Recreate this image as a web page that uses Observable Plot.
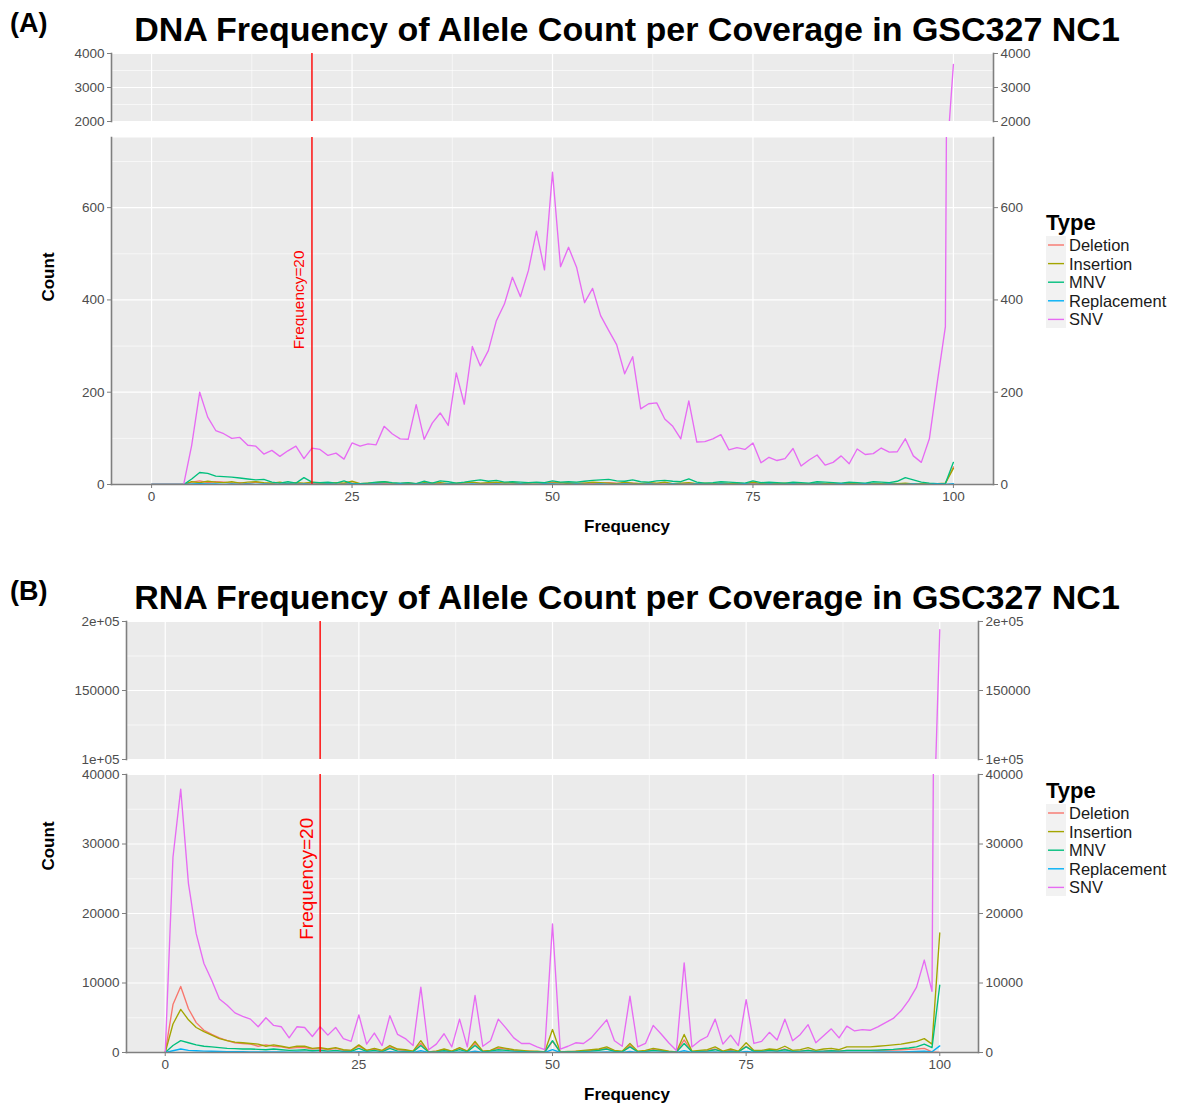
<!DOCTYPE html>
<html>
<head>
<meta charset="utf-8">
<script src="https://cdn.jsdelivr.net/npm/d3@7"></script>
<script src="https://cdn.jsdelivr.net/npm/@observablehq/plot@0.6"></script>
<style>
  html, body { margin: 0; padding: 0; background: #ffffff; }
  #page { position: relative; width: 1190px; height: 1103px; overflow: hidden; background: #fff; }
  #page svg { position: absolute; left: 0; }
</style>
</head>
<body>
<div id="page"></div>
<script>
// ---------- data ----------
const types = ["Deletion", "Insertion", "MNV", "Replacement", "SNV"];
const typeColors = ["#F8766D", "#A3A500", "#00BF7D", "#00B0F6", "#E76BF3"];

const frequency = [0,1,2,3,4,5,6,7,8,9,10,11,12,13,14,15,16,17,18,19,20,21,22,23,24,25,26,27,28,29,30,31,32,33,34,35,36,37,38,39,40,41,42,43,44,45,46,47,48,49,50,51,52,53,54,55,56,57,58,59,60,61,62,63,64,65,66,67,68,69,70,71,72,73,74,75,76,77,78,79,80,81,82,83,84,85,86,87,88,89,90,91,92,93,94,95,96,97,98,99,100];

// DNA (panel A)
const dnaDeletion = [0,0,0,0,0,5,8,4,6,5,3,4,2,5,3,2,4,1,3,2,3,1,2,4,2,3,2,1,3,2,1,2,3,1,2,3,2,1,2,3,4,2,3,2,4,3,2,3,4,2,5,3,4,2,3,2,3,4,3,2,3,2,3,2,1,2,1,3,1,2,1,2,1,1,2,3,1,2,1,1,2,1,1,2,1,1,2,1,1,2,1,1,2,1,1,0,1,0,1,2,38];
const dnaInsertion = [0,0,0,0,0,6,4,7,5,4,6,3,5,6,4,3,5,2,4,3,5,3,2,4,3,7,2,3,4,6,3,2,3,2,4,3,4,2,3,4,5,3,4,5,3,4,2,3,4,3,3,4,2,3,3,5,4,3,2,5,3,2,4,3,5,2,3,4,2,3,2,3,2,3,2,5,2,3,2,3,2,1,2,3,2,1,2,3,1,2,1,2,3,2,3,1,2,1,2,3,35];
const dnaMNV = [0,0,0,0,0,12,26,24,18,17,16,14,12,10,11,5,3,6,3,15,5,4,5,3,8,2,2,3,5,6,4,3,4,2,7,3,8,6,3,5,8,10,7,9,5,6,5,4,5,4,8,5,6,5,7,9,10,11,8,7,10,6,5,8,9,7,6,12,5,3,4,6,5,4,3,8,4,5,4,3,5,4,3,6,5,4,3,5,4,3,6,5,4,7,15,10,5,3,2,2,48];
const dnaReplacement = [0,0,0,0,0,1,2,1,1,0,1,0,1,0,1,0,0,1,0,1,0,0,1,0,0,1,0,0,1,0,0,1,0,0,1,0,0,1,0,0,1,0,0,1,0,0,1,0,0,1,1,0,0,1,0,0,1,0,0,1,0,0,1,0,0,1,0,0,1,0,0,1,0,0,1,0,0,1,0,0,1,0,0,1,0,0,1,0,0,1,0,0,1,0,0,1,0,0,1,0,2];
const dnaSNV = [0,0,0,0,0,85,200,146,117,110,100,102,85,83,66,74,61,73,83,56,79,76,63,68,55,90,83,88,86,126,110,99,98,173,98,133,155,128,242,174,299,257,290,355,391,449,407,464,549,465,677,472,514,471,394,425,366,334,303,240,277,164,175,177,142,126,99,181,92,93,99,108,75,80,76,90,47,59,52,56,78,40,53,64,42,48,62,45,77,65,67,79,70,71,99,62,48,99,223,342,3680];

// RNA (panel B)
const rnaDeletion = [0,6900,9500,6300,4300,3200,2600,2100,1700,1400,1300,1200,900,1100,900,800,600,700,700,500,600,400,600,300,300,900,300,500,200,800,400,300,200,1300,100,200,400,200,600,200,1300,200,300,600,500,300,200,200,100,100,1600,100,100,150,200,300,400,600,200,100,1000,100,200,400,300,150,80,1800,100,200,250,500,150,300,100,900,150,150,300,200,500,150,200,350,150,200,300,200,300,300,300,300,300,350,350,400,450,500,600,100,0];
const rnaInsertion = [0,4100,6200,4700,3600,3000,2500,2000,1700,1500,1400,1300,1200,900,1100,900,700,900,900,600,700,500,700,400,300,1100,300,600,300,1000,500,400,200,1700,100,200,500,200,700,200,1600,200,300,800,600,400,300,200,200,100,3300,100,150,200,300,400,500,800,300,200,1300,200,300,600,400,200,100,2600,200,300,400,800,200,500,200,1400,300,300,500,400,900,300,400,700,300,500,600,400,800,800,800,800,900,1000,1100,1200,1400,1600,2000,1200,17200];
const rnaMNV = [0,1000,1700,1400,1100,900,800,700,600,550,500,500,450,400,500,400,300,350,400,250,350,200,300,150,150,600,150,300,100,600,200,150,100,1000,50,100,250,100,400,100,1000,100,200,400,300,200,150,100,100,50,1700,50,80,100,150,200,300,500,150,100,800,100,150,300,200,100,50,1300,100,150,200,400,100,200,100,800,150,150,300,200,400,150,200,300,150,200,250,200,300,300,300,300,350,400,450,550,650,800,1200,700,9700];
const rnaReplacement = [0,250,500,300,250,200,180,150,130,120,110,100,90,80,90,70,60,70,60,50,60,40,50,30,30,120,30,60,20,120,40,30,20,250,10,20,50,20,100,20,200,20,40,100,60,40,30,20,20,10,400,10,20,20,30,40,60,100,30,20,150,20,30,60,40,20,10,250,20,30,40,80,20,40,20,150,30,30,60,40,80,30,40,60,30,40,50,40,60,60,60,60,70,80,90,100,120,150,200,100,950];
const rnaSNV = [0,28100,37900,24300,17100,12800,10400,7700,6800,5700,5200,4800,3700,5000,3900,3700,2100,3700,3600,2300,3700,2500,3600,2000,1600,5400,1200,2800,1000,5300,2600,2000,1000,9400,400,1200,2700,800,4800,800,8200,900,1700,4800,3500,2100,1300,1300,800,400,18500,500,900,1400,1300,2100,3400,4700,1700,900,8100,800,1300,3900,2700,1400,300,12900,800,1700,2300,4800,1200,2500,1000,7600,1300,1600,2900,1800,4800,1700,2600,4000,1400,2400,3400,2100,3800,3100,3300,3200,3700,4300,4900,6000,7500,9400,13300,8800,194000];

// axes / ticks
const xTicks = [0, 25, 50, 75, 100];
const xTickLabels = ["0", "25", "50", "75", "100"];
const xMinor = [12.5, 37.5, 62.5, 87.5];
const xDomain = [-5, 105];

const dnaTopDomain = [2000, 4000];
const dnaTopTicks = [2000, 3000, 4000];
const dnaTopLabels = ["2000", "3000", "4000"];
const dnaTopMinor = [2500, 3500];
const dnaBottomDomain = [0, 752];
const dnaBottomTicks = [0, 200, 400, 600];
const dnaBottomLabels = ["0", "200", "400", "600"];
const dnaBottomMinor = [100, 300, 500, 700];

const rnaTopDomain = [100000, 200000];
const rnaTopTicks = [100000, 150000, 200000];
const rnaTopLabels = ["1e+05", "150000", "2e+05"];
const rnaTopMinor = [125000, 175000];
const rnaBottomDomain = [0, 40000];
const rnaBottomTicks = [0, 10000, 20000, 30000, 40000];
const rnaBottomLabels = ["0", "10000", "20000", "30000", "40000"];
const rnaBottomMinor = [5000, 15000, 25000, 35000];

const threshold = 20;
const thresholdLabel = "Frequency=20";
const dnaLabelAt = 400;
const rnaLabelAt = 25000;

const titleA = "DNA Frequency of Allele Count per Coverage in GSC327 NC1";
const titleB = "RNA Frequency of Allele Count per Coverage in GSC327 NC1";

// ---------- build ----------
const FONT = "'Liberation Sans', Arial, Helvetica, sans-serif";
const page = document.getElementById("page");

function tidy(seriesList) {
  const rows = [];
  types.forEach((t, k) => {
    seriesList[k].forEach((v, i) => rows.push({type: t, freq: frequency[i], count: v}));
  });
  return rows;
}
const dnaData = tidy([dnaDeletion, dnaInsertion, dnaMNV, dnaReplacement, dnaSNV]);
const rnaData = tidy([rnaDeletion, rnaInsertion, rnaMNV, rnaReplacement, rnaSNV]);

function fmt(ticks, labels) {
  const m = new Map(ticks.map((t, i) => [t, labels[i]]));
  return d => m.get(d);
}

function segment(cfg) {
  const mt = 8, mb = cfg.showX ? 30 : 8;
  const axisCol = "#7f7f7f", textCol = "#4d4d4d";
  const marks = [
    Plot.frame({fill: "#EBEBEB", stroke: null}),
    Plot.gridY(cfg.minor, {stroke: "#ffffff", strokeOpacity: 1, strokeWidth: 0.6}),
    Plot.gridX(xMinor, {stroke: "#ffffff", strokeOpacity: 1, strokeWidth: 0.6}),
    Plot.gridY(cfg.ticks, {stroke: "#ffffff", strokeOpacity: 1, strokeWidth: 1.2}),
    Plot.gridX(xTicks, {stroke: "#ffffff", strokeOpacity: 1, strokeWidth: 1.2}),
    Plot.lineY(cfg.data, {x: "freq", y: "count", z: "type", stroke: "type", strokeWidth: 1.35, clip: true}),
    Plot.ruleX([threshold], {stroke: "#FF0000", strokeWidth: 1.4})
  ];
  if (cfg.labelAt != null) {
    marks.push(Plot.text([{x: threshold, y: cfg.labelAt, t: thresholdLabel}], {
      x: "x", y: "y", text: "t", rotate: -90, dx: -13, fill: "#FF0000",
      fontSize: cfg.labelSize, textAnchor: "middle", lineAnchor: "middle"
    }));
  }
  marks.push(
    Plot.axisY({anchor: "left", ticks: cfg.ticks, tickFormat: fmt(cfg.ticks, cfg.labels), tickSize: 4, tickPadding: 3, stroke: axisCol, fill: textCol, label: null}),
    Plot.axisY({anchor: "right", ticks: cfg.ticks, tickFormat: fmt(cfg.ticks, cfg.labels), tickSize: 4, tickPadding: 3, stroke: axisCol, fill: textCol, label: null}),
    Plot.frame({anchor: "left", stroke: axisCol, strokeWidth: 1.6}),
    Plot.frame({anchor: "right", stroke: axisCol, strokeWidth: 1.6})
  );
  if (cfg.showX) {
    marks.push(
      Plot.axisX({ticks: xTicks, tickFormat: fmt(xTicks, xTickLabels), tickSize: 4, tickPadding: 3, stroke: axisCol, fill: textCol, label: null}),
      Plot.frame({anchor: "bottom", stroke: axisCol, strokeWidth: 1.6})
    );
  }
  const xScale = cfg.showX ? {domain: xDomain} : {domain: xDomain, axis: null};
  const svg = Plot.plot({
    width: 1190,
    height: cfg.bottom - cfg.top + mt + mb,
    marginLeft: cfg.left, marginRight: 1190 - cfg.right,
    marginTop: mt, marginBottom: mb,
    x: xScale,
    y: {domain: cfg.domain},
    color: {domain: types, range: typeColors},
    style: {fontFamily: FONT, fontSize: "13.5px", background: "transparent", overflow: "visible"},
    marks
  });
  svg.style.top = (cfg.top - mt) + "px";
  page.appendChild(svg);
}

// Panel A
segment({data: dnaData, domain: dnaTopDomain, ticks: dnaTopTicks, labels: dnaTopLabels, minor: dnaTopMinor,
  top: 53, bottom: 121, left: 111, right: 993, showX: false});
segment({data: dnaData, domain: dnaBottomDomain, ticks: dnaBottomTicks, labels: dnaBottomLabels, minor: dnaBottomMinor,
  top: 137, bottom: 484, left: 111, right: 993, showX: true, labelAt: dnaLabelAt, labelSize: 15.4});
// Panel B
segment({data: rnaData, domain: rnaTopDomain, ticks: rnaTopTicks, labels: rnaTopLabels, minor: rnaTopMinor,
  top: 621, bottom: 759, left: 126, right: 978, showX: false});
segment({data: rnaData, domain: rnaBottomDomain, ticks: rnaBottomTicks, labels: rnaBottomLabels, minor: rnaBottomMinor,
  top: 774, bottom: 1052, left: 126, right: 978, showX: true, labelAt: rnaLabelAt, labelSize: 19});

// Overlay text: titles, axis titles, legends
const ov = d3.select(page).append("svg")
  .attr("width", 1190).attr("height", 1103)
  .style("top", "0px").style("pointer-events", "none")
  .style("font-family", FONT);

function panelText(dy, tag, title) {
  ov.append("text").attr("x", 10).attr("y", 32 + dy).attr("font-size", 27).attr("font-weight", "bold").attr("fill", "#000").text(tag);
  ov.append("text").attr("x", 627).attr("y", 41 + dy).attr("text-anchor", "middle").attr("font-size", 34).attr("font-weight", "bold").attr("fill", "#000").text(title);
}
panelText(0, "(A)", titleA);
panelText(568, "(B)", titleB);

function axisTitles(countY, freqY) {
  ov.append("text").attr("transform", `translate(54,${countY}) rotate(-90)`).attr("text-anchor", "middle")
    .attr("font-size", 17).attr("font-weight", "bold").attr("fill", "#000").text("Count");
  ov.append("text").attr("x", 627).attr("y", freqY).attr("text-anchor", "middle")
    .attr("font-size", 17).attr("font-weight", "bold").attr("fill", "#000").text("Frequency");
}
axisTitles(277, 532);
axisTitles(846, 1100);

function legend(dy) {
  const g = ov.append("g").attr("transform", `translate(0,${dy})`);
  g.append("text").attr("x", 1046).attr("y", 230).attr("font-size", 22).attr("font-weight", "bold").attr("fill", "#000").text("Type");
  g.append("rect").attr("x", 1046).attr("y", 236).attr("width", 20).attr("height", 92).attr("fill", "#F2F2F2");
  types.forEach((t, i) => {
    const y = 245 + i * 18.6;
    g.append("line").attr("x1", 1048).attr("x2", 1064).attr("y1", y).attr("y2", y)
      .attr("stroke", typeColors[i]).attr("stroke-width", 1.4);
    g.append("text").attr("x", 1069).attr("y", y + 6).attr("font-size", 16.5).attr("fill", "#1a1a1a").text(t);
  });
}
legend(0);
legend(568);
</script>
</body>
</html>
